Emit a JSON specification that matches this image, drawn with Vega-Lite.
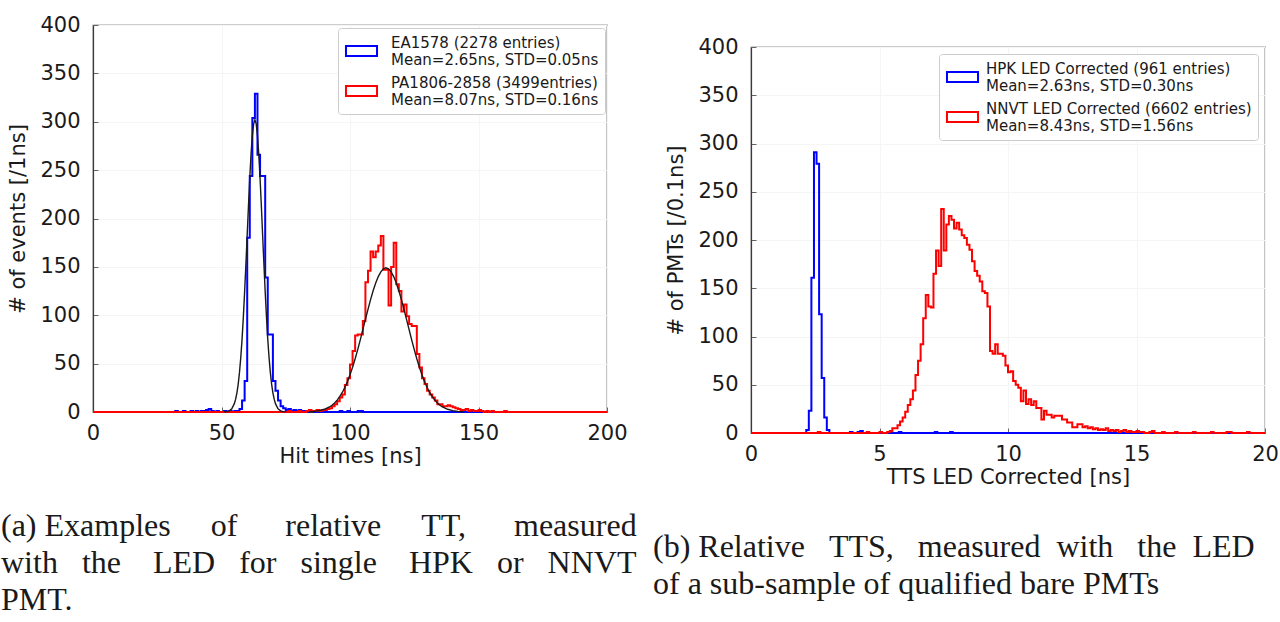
{
  "$schema": "https://vega.github.io/schema/vega-lite/v6.json",
  "background": "white",
  "padding": {"left": 0, "top": 13, "right": 0, "bottom": 0},
  "bounds": "flush",
  "spacing": 144,
  "resolve": {"scale": {"stroke": "independent"}, "legend": {"stroke": "independent"}},
  "datasets": {
    "a_hist": [
      {"s":"EA1578","t":0,"v":0},{"s":"EA1578","t":32,"v":1},{"s":"EA1578","t":33,"v":0},{"s":"EA1578","t":35,"v":1},{"s":"EA1578","t":36,"v":0},{"s":"EA1578","t":38,"v":1},{"s":"EA1578","t":39,"v":0},{"s":"EA1578","t":40,"v":1},{"s":"EA1578","t":41,"v":0},{"s":"EA1578","t":42,"v":1},{"s":"EA1578","t":44,"v":2},{"s":"EA1578","t":45,"v":3},{"s":"EA1578","t":46,"v":1},{"s":"EA1578","t":47,"v":0},{"s":"EA1578","t":48,"v":1},{"s":"EA1578","t":49,"v":0},{"s":"EA1578","t":51,"v":1},{"s":"EA1578","t":52,"v":0},{"s":"EA1578","t":53,"v":1},{"s":"EA1578","t":54,"v":0},{"s":"EA1578","t":55,"v":1},{"s":"EA1578","t":56,"v":1},{"s":"EA1578","t":57,"v":3},{"s":"EA1578","t":58,"v":12},{"s":"EA1578","t":59,"v":32},{"s":"EA1578","t":60,"v":180},{"s":"EA1578","t":61,"v":244},{"s":"EA1578","t":62,"v":304},{"s":"EA1578","t":63,"v":329},{"s":"EA1578","t":64,"v":266},{"s":"EA1578","t":65,"v":244},{"s":"EA1578","t":66,"v":244},{"s":"EA1578","t":67,"v":139},{"s":"EA1578","t":68,"v":80},{"s":"EA1578","t":69,"v":80},{"s":"EA1578","t":70,"v":32},{"s":"EA1578","t":71,"v":22},{"s":"EA1578","t":72,"v":12},{"s":"EA1578","t":73,"v":6},{"s":"EA1578","t":74,"v":4},{"s":"EA1578","t":75,"v":2},{"s":"EA1578","t":76,"v":3},{"s":"EA1578","t":77,"v":1},{"s":"EA1578","t":78,"v":2},{"s":"EA1578","t":79,"v":1},{"s":"EA1578","t":80,"v":2},{"s":"EA1578","t":81,"v":1},{"s":"EA1578","t":82,"v":1},{"s":"EA1578","t":83,"v":0},{"s":"EA1578","t":84,"v":1},{"s":"EA1578","t":85,"v":1},{"s":"EA1578","t":86,"v":0},{"s":"EA1578","t":87,"v":1},{"s":"EA1578","t":88,"v":0},{"s":"EA1578","t":96,"v":1},{"s":"EA1578","t":97,"v":0},{"s":"EA1578","t":99,"v":1},{"s":"EA1578","t":100,"v":0},{"s":"EA1578","t":103,"v":1},{"s":"EA1578","t":105,"v":0},{"s":"EA1578","t":200,"v":0},
      {"s":"PA1806","t":0,"v":0},{"s":"PA1806","t":76,"v":1},{"s":"PA1806","t":77,"v":0},{"s":"PA1806","t":80,"v":1},{"s":"PA1806","t":81,"v":0},{"s":"PA1806","t":83,"v":1},{"s":"PA1806","t":84,"v":2},{"s":"PA1806","t":85,"v":1},{"s":"PA1806","t":87,"v":2},{"s":"PA1806","t":88,"v":1},{"s":"PA1806","t":89,"v":2},{"s":"PA1806","t":91,"v":3},{"s":"PA1806","t":92,"v":4},{"s":"PA1806","t":93,"v":6},{"s":"PA1806","t":94,"v":8},{"s":"PA1806","t":95,"v":11},{"s":"PA1806","t":96,"v":15},{"s":"PA1806","t":97,"v":18},{"s":"PA1806","t":98,"v":28},{"s":"PA1806","t":99,"v":35},{"s":"PA1806","t":100,"v":49},{"s":"PA1806","t":101,"v":63},{"s":"PA1806","t":102,"v":79},{"s":"PA1806","t":103,"v":80},{"s":"PA1806","t":104,"v":80},{"s":"PA1806","t":105,"v":94},{"s":"PA1806","t":106,"v":134},{"s":"PA1806","t":107,"v":146},{"s":"PA1806","t":108,"v":166},{"s":"PA1806","t":109,"v":160},{"s":"PA1806","t":110,"v":166},{"s":"PA1806","t":111,"v":172},{"s":"PA1806","t":112,"v":182},{"s":"PA1806","t":113,"v":147},{"s":"PA1806","t":114,"v":147},{"s":"PA1806","t":115,"v":110},{"s":"PA1806","t":116,"v":150},{"s":"PA1806","t":117,"v":175},{"s":"PA1806","t":118,"v":132},{"s":"PA1806","t":119,"v":125},{"s":"PA1806","t":120,"v":104},{"s":"PA1806","t":121,"v":111},{"s":"PA1806","t":122,"v":99},{"s":"PA1806","t":123,"v":91},{"s":"PA1806","t":124,"v":89},{"s":"PA1806","t":125,"v":89},{"s":"PA1806","t":126,"v":60},{"s":"PA1806","t":127,"v":46},{"s":"PA1806","t":128,"v":35},{"s":"PA1806","t":129,"v":29},{"s":"PA1806","t":130,"v":22},{"s":"PA1806","t":131,"v":18},{"s":"PA1806","t":132,"v":15},{"s":"PA1806","t":133,"v":12},{"s":"PA1806","t":134,"v":8},{"s":"PA1806","t":135,"v":8},{"s":"PA1806","t":136,"v":6},{"s":"PA1806","t":137,"v":6},{"s":"PA1806","t":138,"v":7},{"s":"PA1806","t":139,"v":6},{"s":"PA1806","t":140,"v":5},{"s":"PA1806","t":141,"v":4},{"s":"PA1806","t":142,"v":3},{"s":"PA1806","t":143,"v":2},{"s":"PA1806","t":145,"v":3},{"s":"PA1806","t":146,"v":1},{"s":"PA1806","t":147,"v":2},{"s":"PA1806","t":148,"v":1},{"s":"PA1806","t":150,"v":2},{"s":"PA1806","t":151,"v":1},{"s":"PA1806","t":152,"v":0},{"s":"PA1806","t":153,"v":1},{"s":"PA1806","t":154,"v":0},{"s":"PA1806","t":155,"v":1},{"s":"PA1806","t":156,"v":0},{"s":"PA1806","t":160,"v":1},{"s":"PA1806","t":161,"v":0},{"s":"PA1806","t":200,"v":0}
    ],
    "a_fit": [
      {"f":"g1","t":51,"v":0.1},{"f":"g1","t":52,"v":0.36},{"f":"g1","t":53,"v":1.2},{"f":"g1","t":54,"v":3.4},{"f":"g1","t":55,"v":8.6},{"f":"g1","t":55.5,"v":13.3},{"f":"g1","t":56,"v":19.8},{"f":"g1","t":56.5,"v":28.9},{"f":"g1","t":57,"v":40.9},{"f":"g1","t":57.5,"v":56.3},{"f":"g1","t":58,"v":75.3},{"f":"g1","t":58.5,"v":98.1},{"f":"g1","t":59,"v":124.2},{"f":"g1","t":59.5,"v":152.9},{"f":"g1","t":60,"v":183.2},{"f":"g1","t":60.5,"v":213.4},{"f":"g1","t":61,"v":241.8},{"f":"g1","t":61.5,"v":266.5},{"f":"g1","t":62,"v":285.7},{"f":"g1","t":62.5,"v":297.8},{"f":"g1","t":63,"v":302},{"f":"g1","t":63.5,"v":297.8},{"f":"g1","t":64,"v":285.7},{"f":"g1","t":64.5,"v":266.5},{"f":"g1","t":65,"v":241.8},{"f":"g1","t":65.5,"v":213.4},{"f":"g1","t":66,"v":183.2},{"f":"g1","t":66.5,"v":152.9},{"f":"g1","t":67,"v":124.2},{"f":"g1","t":67.5,"v":98.1},{"f":"g1","t":68,"v":75.3},{"f":"g1","t":68.5,"v":56.3},{"f":"g1","t":69,"v":40.9},{"f":"g1","t":69.5,"v":28.9},{"f":"g1","t":70,"v":19.8},{"f":"g1","t":70.5,"v":13.3},{"f":"g1","t":71,"v":8.6},{"f":"g1","t":72,"v":3.4},{"f":"g1","t":73,"v":1.2},{"f":"g1","t":74,"v":0.36},{"f":"g1","t":75,"v":0.1},
      {"f":"g2","t":84,"v":0.29},{"f":"g2","t":86,"v":0.66},{"f":"g2","t":88,"v":1.4},{"f":"g2","t":90,"v":2.8},{"f":"g2","t":92,"v":5.2},{"f":"g2","t":93,"v":7.0},{"f":"g2","t":94,"v":9.4},{"f":"g2","t":95,"v":12.3},{"f":"g2","t":96,"v":15.8},{"f":"g2","t":97,"v":20.2},{"f":"g2","t":98,"v":25.3},{"f":"g2","t":99,"v":31.4},{"f":"g2","t":100,"v":38.4},{"f":"g2","t":101,"v":46.3},{"f":"g2","t":102,"v":55.0},{"f":"g2","t":103,"v":64.5},{"f":"g2","t":104,"v":74.6},{"f":"g2","t":105,"v":85.1},{"f":"g2","t":106,"v":95.7},{"f":"g2","t":107,"v":106.1},{"f":"g2","t":108,"v":116.1},{"f":"g2","t":109,"v":125.3},{"f":"g2","t":110,"v":133.4},{"f":"g2","t":111,"v":140.0},{"f":"g2","t":112,"v":144.9},{"f":"g2","t":113,"v":148.0},{"f":"g2","t":114,"v":149},{"f":"g2","t":115,"v":148.0},{"f":"g2","t":116,"v":144.9},{"f":"g2","t":117,"v":140.0},{"f":"g2","t":118,"v":133.4},{"f":"g2","t":119,"v":125.3},{"f":"g2","t":120,"v":116.1},{"f":"g2","t":121,"v":106.1},{"f":"g2","t":122,"v":95.7},{"f":"g2","t":123,"v":85.1},{"f":"g2","t":124,"v":74.6},{"f":"g2","t":125,"v":64.5},{"f":"g2","t":126,"v":55.0},{"f":"g2","t":127,"v":46.3},{"f":"g2","t":128,"v":38.4},{"f":"g2","t":129,"v":31.4},{"f":"g2","t":130,"v":25.3},{"f":"g2","t":131,"v":20.2},{"f":"g2","t":132,"v":15.8},{"f":"g2","t":133,"v":12.3},{"f":"g2","t":134,"v":9.4},{"f":"g2","t":135,"v":7.0},{"f":"g2","t":136,"v":5.2},{"f":"g2","t":138,"v":2.8},{"f":"g2","t":140,"v":1.4},{"f":"g2","t":142,"v":0.66},{"f":"g2","t":144,"v":0.29}
    ],
    "b_hist": [
      {"s":"HPK","t":0,"v":0},{"s":"HPK","t":2.15,"v":3},{"s":"HPK","t":2.25,"v":23},{"s":"HPK","t":2.35,"v":161},{"s":"HPK","t":2.45,"v":291},{"s":"HPK","t":2.55,"v":279},{"s":"HPK","t":2.65,"v":123},{"s":"HPK","t":2.75,"v":57},{"s":"HPK","t":2.85,"v":16},{"s":"HPK","t":2.95,"v":3},{"s":"HPK","t":3.05,"v":0},{"s":"HPK","t":3.85,"v":1},{"s":"HPK","t":3.95,"v":0},{"s":"HPK","t":4.15,"v":1},{"s":"HPK","t":4.25,"v":2},{"s":"HPK","t":4.35,"v":0},{"s":"HPK","t":5.75,"v":1},{"s":"HPK","t":5.85,"v":0},{"s":"HPK","t":7.15,"v":1},{"s":"HPK","t":7.25,"v":0},{"s":"HPK","t":7.75,"v":1},{"s":"HPK","t":7.85,"v":0},{"s":"HPK","t":20,"v":0},
      {"s":"NNVT","t":0,"v":0},{"s":"NNVT","t":2.6,"v":1},{"s":"NNVT","t":2.7,"v":0},{"s":"NNVT","t":4.5,"v":1},{"s":"NNVT","t":4.6,"v":0},{"s":"NNVT","t":5.0,"v":1},{"s":"NNVT","t":5.1,"v":0},{"s":"NNVT","t":5.3,"v":1},{"s":"NNVT","t":5.4,"v":2},{"s":"NNVT","t":5.5,"v":5},{"s":"NNVT","t":5.7,"v":8},{"s":"NNVT","t":5.8,"v":12},{"s":"NNVT","t":5.9,"v":16},{"s":"NNVT","t":6.0,"v":22},{"s":"NNVT","t":6.1,"v":29},{"s":"NNVT","t":6.2,"v":35},{"s":"NNVT","t":6.3,"v":44},{"s":"NNVT","t":6.4,"v":60},{"s":"NNVT","t":6.5,"v":75},{"s":"NNVT","t":6.6,"v":92},{"s":"NNVT","t":6.7,"v":119},{"s":"NNVT","t":6.8,"v":143},{"s":"NNVT","t":6.9,"v":131},{"s":"NNVT","t":7.0,"v":130},{"s":"NNVT","t":7.1,"v":165},{"s":"NNVT","t":7.2,"v":189},{"s":"NNVT","t":7.3,"v":173},{"s":"NNVT","t":7.4,"v":232},{"s":"NNVT","t":7.5,"v":189},{"s":"NNVT","t":7.6,"v":216},{"s":"NNVT","t":7.7,"v":225},{"s":"NNVT","t":7.8,"v":221},{"s":"NNVT","t":7.9,"v":212},{"s":"NNVT","t":8.0,"v":218},{"s":"NNVT","t":8.1,"v":211},{"s":"NNVT","t":8.2,"v":205},{"s":"NNVT","t":8.3,"v":202},{"s":"NNVT","t":8.4,"v":195},{"s":"NNVT","t":8.5,"v":190},{"s":"NNVT","t":8.6,"v":178},{"s":"NNVT","t":8.7,"v":168},{"s":"NNVT","t":8.8,"v":163},{"s":"NNVT","t":8.9,"v":157},{"s":"NNVT","t":9.0,"v":147},{"s":"NNVT","t":9.1,"v":145},{"s":"NNVT","t":9.2,"v":131},{"s":"NNVT","t":9.3,"v":85},{"s":"NNVT","t":9.4,"v":82},{"s":"NNVT","t":9.5,"v":92},{"s":"NNVT","t":9.6,"v":82},{"s":"NNVT","t":9.7,"v":82},{"s":"NNVT","t":9.8,"v":80},{"s":"NNVT","t":9.9,"v":70},{"s":"NNVT","t":10.0,"v":63},{"s":"NNVT","t":10.1,"v":64},{"s":"NNVT","t":10.2,"v":54},{"s":"NNVT","t":10.3,"v":50},{"s":"NNVT","t":10.4,"v":47},{"s":"NNVT","t":10.5,"v":33},{"s":"NNVT","t":10.6,"v":44},{"s":"NNVT","t":10.7,"v":30},{"s":"NNVT","t":10.8,"v":35},{"s":"NNVT","t":10.9,"v":29},{"s":"NNVT","t":11.0,"v":33},{"s":"NNVT","t":11.1,"v":26},{"s":"NNVT","t":11.3,"v":14},{"s":"NNVT","t":11.4,"v":23},{"s":"NNVT","t":11.5,"v":19},{"s":"NNVT","t":11.7,"v":16},{"s":"NNVT","t":11.8,"v":18},{"s":"NNVT","t":12.1,"v":14},{"s":"NNVT","t":12.3,"v":11},{"s":"NNVT","t":12.5,"v":6},{"s":"NNVT","t":12.7,"v":9},{"s":"NNVT","t":12.9,"v":6},{"s":"NNVT","t":13.0,"v":7},{"s":"NNVT","t":13.1,"v":5},{"s":"NNVT","t":13.2,"v":6},{"s":"NNVT","t":13.3,"v":4},{"s":"NNVT","t":13.4,"v":5},{"s":"NNVT","t":13.5,"v":3},{"s":"NNVT","t":13.6,"v":4},{"s":"NNVT","t":13.7,"v":3},{"s":"NNVT","t":13.8,"v":5},{"s":"NNVT","t":13.9,"v":2},{"s":"NNVT","t":14.0,"v":3},{"s":"NNVT","t":14.1,"v":2},{"s":"NNVT","t":14.2,"v":3},{"s":"NNVT","t":14.3,"v":1},{"s":"NNVT","t":14.4,"v":2},{"s":"NNVT","t":14.5,"v":3},{"s":"NNVT","t":14.6,"v":1},{"s":"NNVT","t":14.7,"v":2},{"s":"NNVT","t":14.8,"v":1},{"s":"NNVT","t":15.0,"v":2},{"s":"NNVT","t":15.1,"v":1},{"s":"NNVT","t":15.3,"v":0},{"s":"NNVT","t":15.5,"v":1},{"s":"NNVT","t":15.6,"v":2},{"s":"NNVT","t":15.7,"v":0},{"s":"NNVT","t":16.0,"v":1},{"s":"NNVT","t":16.1,"v":0},{"s":"NNVT","t":16.5,"v":1},{"s":"NNVT","t":16.6,"v":0},{"s":"NNVT","t":17.2,"v":1},{"s":"NNVT","t":17.3,"v":0},{"s":"NNVT","t":17.9,"v":1},{"s":"NNVT","t":18.0,"v":0},{"s":"NNVT","t":18.5,"v":1},{"s":"NNVT","t":18.7,"v":0},{"s":"NNVT","t":19.3,"v":1},{"s":"NNVT","t":19.4,"v":0},{"s":"NNVT","t":20,"v":0}
    ]
  },
  "hconcat": [
    {
      "width": 514,
      "height": 387,
      "title": {
        "text": ["(a) Examples \u00a0\u00a0\u00a0\u00a0of \u00a0\u00a0\u00a0\u00a0\u00a0relative \u00a0\u00a0\u00a0\u00a0TT, \u00a0\u00a0\u00a0\u00a0\u00a0measured", "with \u00a0\u00a0the \u00a0\u00a0\u00a0LED \u00a0\u00a0for \u00a0\u00a0single \u00a0\u00a0\u00a0HPK \u00a0\u00a0or \u00a0\u00a0NNVT", "PMT."],
        "orient": "bottom", "anchor": "start", "frame": "group", "dx": -92, "offset": 45
      },
      "layer": [
        {
          "data": {"name": "a_hist"},
          "mark": {"type": "line", "interpolate": "step-after", "strokeWidth": 2},
          "encoding": {
            "x": {"field": "t", "type": "quantitative", "scale": {"domain": [0, 200], "nice": false}, "axis": {"title": "Hit times [ns]", "values": [0, 50, 100, 150, 200]}},
            "y": {"field": "v", "type": "quantitative", "scale": {"domain": [0, 400], "nice": false}, "axis": {"title": "# of events [/1ns]", "values": [0, 50, 100, 150, 200, 250, 300, 350, 400]}},
            "stroke": {
              "field": "s", "type": "nominal",
              "scale": {"domain": ["EA1578", "PA1806"], "range": ["#0000ff", "#ff0000"]},
              "legend": {
                "orient": "none", "legendX": 245, "legendY": 3,
                "labelExpr": "datum.label == 'EA1578' ? ['EA1578 (2278 entries)', 'Mean=2.65ns, STD=0.05ns'] : ['PA1806-2858 (3499entries)', 'Mean=8.07ns, STD=0.16ns']"
              }
            }
          }
        },
        {
          "data": {"name": "a_fit"},
          "mark": {"type": "line", "color": "#1a1a1a", "strokeWidth": 1.4},
          "encoding": {
            "x": {"field": "t", "type": "quantitative"},
            "y": {"field": "v", "type": "quantitative"},
            "detail": {"field": "f", "type": "nominal"}
          }
        }
      ]
    },
    {
      "vconcat": [
        {
          "width": 514,
          "height": 22,
          "view": {"stroke": null},
          "data": {"values": [{"k": 1}]},
          "mark": {"type": "point", "opacity": 0},
          "encoding": {}
        },
        {
          "width": 514,
          "height": 386,
          "title": {
            "text": ["(b) Relative \u00a0\u00a0TTS, \u00a0\u00a0measured \u00a0with \u00a0\u00a0the \u00a0LED", "of a sub-sample of qualified bare PMTs"],
            "orient": "bottom", "anchor": "start", "frame": "group", "dx": -98, "offset": 45
          },
          "data": {"name": "b_hist"},
          "mark": {"type": "line", "interpolate": "step-after", "strokeWidth": 2},
          "encoding": {
            "x": {"field": "t", "type": "quantitative", "scale": {"domain": [0, 20], "nice": false}, "axis": {"title": "TTS LED Corrected [ns]", "values": [0, 5, 10, 15, 20]}},
            "y": {"field": "v", "type": "quantitative", "scale": {"domain": [0, 400], "nice": false}, "axis": {"title": "# of PMTs [/0.1ns]", "values": [0, 50, 100, 150, 200, 250, 300, 350, 400]}},
            "stroke": {
              "field": "s", "type": "nominal",
              "scale": {"domain": ["HPK", "NNVT"], "range": ["#0000ff", "#ff0000"]},
              "legend": {
                "orient": "none", "legendX": 188, "legendY": 29, "labelOffset": 24,
                "labelExpr": "datum.label == 'HPK' ? ['HPK LED Corrected (961 entries)', 'Mean=2.63ns, STD=0.30ns'] : ['NNVT LED Corrected (6602 entries)', 'Mean=8.43ns, STD=1.56ns']"
              }
            }
          }
        }
      ],
      "spacing": 0,
      "bounds": "flush"
    }
  ],
  "config": {
    "font": "DejaVu Sans",
    "view": {"stroke": "#3a3a3a", "strokeWidth": 1.2},
    "axis": {
      "labelFont": "DejaVu Sans", "labelFontSize": 21, "labelColor": "#1a1a1a",
      "titleFont": "DejaVu Sans", "titleFontSize": 21, "titleFontWeight": "normal", "titleColor": "#1a1a1a",
      "domainColor": "#3a3a3a", "domainWidth": 1.2, "tickColor": "#666666", "tickSize": -5, "tickWidth": 1,
      "labelFlush": false, "labelOverlap": false, "labelPadding": 15,
      "grid": true, "gridColor": "#f5f5f5"
    },
    "axisX": {"titlePadding": 2},
    "axisY": {"titlePadding": 11, "labelPadding": 18},
    "legend": {
      "title": null,
      "labelFont": "DejaVu Sans", "labelFontSize": 15, "labelColor": "#1a1a1a", "labelLimit": 400,
      "symbolType": "M-0.87,0.47H3.27V1.8H-0.87Z", "symbolSize": 225, "symbolStrokeWidth": 2, "symbolFillColor": "white",
      "labelOffset": 30, "rowPadding": 6, "padding": 6,
      "fillColor": "white", "strokeColor": "#cccccc", "cornerRadius": 3
    },
    "title": {"font": "Liberation Serif", "fontSize": 32, "fontWeight": "normal", "color": "#1a1a1a", "lineHeight": 37}
  }
}
